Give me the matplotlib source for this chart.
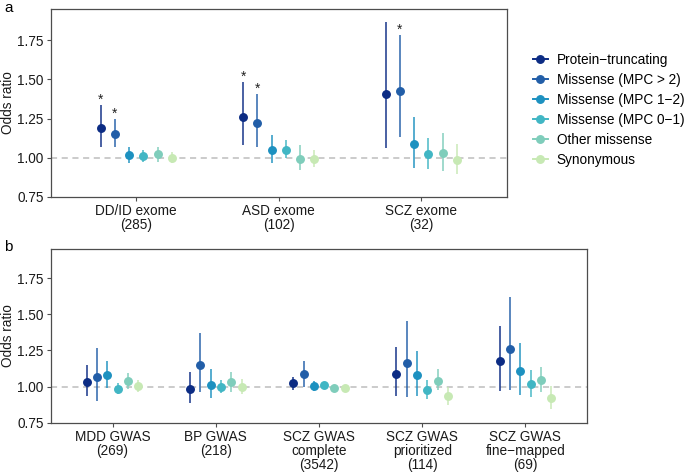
import matplotlib
matplotlib.use("Agg")
import matplotlib.pyplot as plt
from matplotlib.lines import Line2D
import numpy as np

plt.rcParams['font.family'] = ['Liberation Sans', 'DejaVu Sans']

series = ["Protein\u2212truncating", "Missense (MPC > 2)", "Missense (MPC 1\u22122)",
          "Missense (MPC 0\u22121)", "Other missense", "Synonymous"]
colors = ["#0c2c84", "#225ea8", "#1d91c0", "#41b6c4", "#7fcdbb", "#c7e9b4"]

cats_a = ["DD/ID exome\n(285)", "ASD exome\n(102)", "SCZ exome\n(32)"]
# rows: series, cols: categories
or_a = [[1.189, 1.262, 1.405],
        [1.153, 1.223, 1.424],
        [1.015, 1.049, 1.085],
        [1.009, 1.049, 1.024],
        [1.022, 0.994, 1.032],
        [0.996, 0.992, 0.985]]
lo_a = [[1.066, 1.079, 1.060],
        [1.070, 1.066, 1.134],
        [0.964, 0.964, 0.936],
        [0.971, 1.000, 0.928],
        [0.975, 0.921, 0.917],
        [0.964, 0.939, 0.894]]
hi_a = [[1.334, 1.483, 1.866],
        [1.245, 1.405, 1.785],
        [1.070, 1.147, 1.262],
        [1.047, 1.111, 1.128],
        [1.070, 1.079, 1.158],
        [1.034, 1.049, 1.089]]
sig_a = [[1, 1, 0],
         [1, 1, 1],
         [0, 0, 0],
         [0, 0, 0],
         [0, 0, 0],
         [0, 0, 0]]

cats_b = ["MDD GWAS\n(269)", "BP GWAS\n(218)", "SCZ GWAS\ncomplete\n(3542)",
          "SCZ GWAS\nprioritized\n(114)", "SCZ GWAS\nfine\u2212mapped\n(69)"]
or_b = [[1.035, 0.984, 1.023, 1.090, 1.176],
        [1.063, 1.146, 1.086, 1.164, 1.257],
        [1.079, 1.014, 1.005, 1.079, 1.107],
        [0.986, 0.995, 1.009, 0.979, 1.016],
        [1.037, 1.035, 0.993, 1.042, 1.046],
        [1.003, 1.000, 0.989, 0.935, 0.921]]
lo_b = [[0.938, 0.885, 0.977, 0.933, 0.972],
        [0.898, 0.961, 1.000, 0.928, 0.977],
        [0.991, 0.921, 0.968, 0.938, 0.940],
        [0.951, 0.954, 0.990, 0.917, 0.926],
        [0.981, 0.965, 0.980, 0.975, 0.963],
        [0.961, 0.951, 0.978, 0.871, 0.845]]
hi_b = [[1.146, 1.104, 1.065, 1.273, 1.419],
        [1.266, 1.373, 1.174, 1.456, 1.621],
        [1.178, 1.120, 1.042, 1.248, 1.301],
        [1.023, 1.046, 1.030, 1.046, 1.114],
        [1.097, 1.100, 1.008, 1.120, 1.135],
        [1.046, 1.051, 1.000, 1.000, 1.005]]

yticks = [0.75, 1.00, 1.25, 1.50, 1.75]

fig = plt.figure(figsize=(6.85, 4.73), dpi=100)
pos_a = [0.074, 0.584, 0.6657, 0.397]
pos_b = [0.074, 0.1063, 0.7834, 0.3667]
ax_a = fig.add_axes(pos_a)
ax_b = fig.add_axes(pos_b)

FS = 9.8
frame_col = "#4d4d4d"
MS = 5.4
LW = 1.4


def draw(ax, pos, cats, ors, los, his, sig=None):
    n = len(cats)
    x = np.arange(1, n + 1)
    ax.axhline(1.0, color="#bdbdbd", lw=1.1, ls=(0, (4, 3)), zorder=1)
    for i in range(len(series)):
        xs = x + (i - 2.5) * 0.1
        o = np.array(ors[i]); l = np.array(los[i]); h = np.array(his[i])
        ax.vlines(xs, l, h, color=colors[i], lw=LW, alpha=0.75, zorder=2)
        ax.plot(xs, o, 'o', color=colors[i], ms=MS, zorder=3)
        if sig is not None:
            for j in range(n):
                if sig[i][j]:
                    ax.text(xs[j], h[j] + 0.035, "*", ha="center", va="center",
                            fontsize=FS, color="#222222")
    ax.set_xlim(0.4, n + 0.6)
    ax.set_ylim(0.75, 1.95)
    ax.set_xticks(x)
    ax.set_xticklabels(cats, fontsize=FS, linespacing=1.0, va="top")
    ax.set_yticks(yticks)
    ax.set_yticklabels([f"{v:.2f}" for v in yticks], fontsize=FS)
    fig.text(8.5 / 685, pos[1] + pos[3] / 2, "Odds ratio", rotation=90,
             ha="center", va="center", fontsize=FS, color="#1a1a1a")
    for s in ax.spines.values():
        s.set_color(frame_col)
        s.set_linewidth(0.9)
    ax.tick_params(axis="both", colors=frame_col, length=3, width=0.8,
                   labelcolor="#1a1a1a", pad=2)


draw(ax_a, pos_a, cats_a, or_a, lo_a, hi_a, sig_a)
draw(ax_b, pos_b, cats_b, or_b, lo_b, hi_b)

fig.text(0.006, 0.998, "a", fontsize=11, va="top", ha="left")
fig.text(0.006, 1 - 250.5 / 473, "b", fontsize=11, va="baseline", ha="left")

handles = [Line2D([0], [0], color=c, marker='o', ms=MS, lw=LW) for c in colors]
fig.legend(handles, series, loc="upper left", bbox_to_anchor=(0.778, 0.888),
           frameon=False, fontsize=FS, handlelength=1.1, handletextpad=0.64,
           labelspacing=0.44, borderaxespad=0, borderpad=0)

fig.savefig("out.png", dpi=100)
